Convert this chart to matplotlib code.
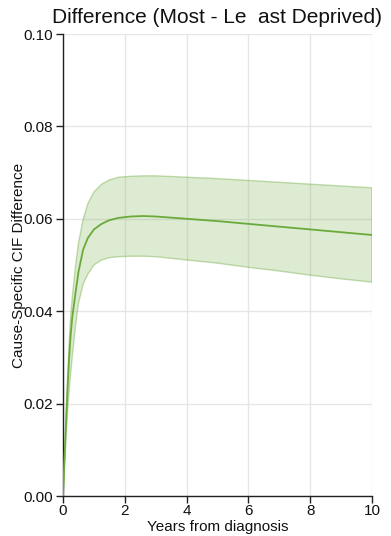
import matplotlib
matplotlib.use("Agg")
import matplotlib.pyplot as plt

plt.rcParams['font.family'] = ['Liberation Sans', 'DejaVu Sans']

# Years from diagnosis and the estimated CIF difference with its confidence band
years = [0, 0.05, 0.1, 0.15, 0.2, 0.25, 0.3, 0.4, 0.5, 0.65, 0.8, 1.0, 1.25,
         1.5, 1.8, 2.2, 2.6, 3.0, 4.0, 5.0, 6.0, 7.0, 8.0, 9.0, 10.0]
diff = [0, 0.0080, 0.0160, 0.0235, 0.0300, 0.0350, 0.0387, 0.0437, 0.0485,
        0.0533, 0.0558, 0.0577, 0.0589, 0.0597, 0.0602, 0.0605, 0.0606,
        0.0605, 0.0600, 0.0595, 0.0589, 0.0583, 0.0577, 0.0571, 0.0565]
upper = [0, 0.0090, 0.0178, 0.0262, 0.0335, 0.0390, 0.0430, 0.0495, 0.0547,
         0.0598, 0.0632, 0.0658, 0.0675, 0.0684, 0.0690, 0.0692, 0.0693,
         0.0693, 0.0690, 0.0687, 0.0683, 0.0679, 0.0675, 0.0671, 0.0667]
lower = [0, 0.0068, 0.0130, 0.0185, 0.0230, 0.0268, 0.0302, 0.0366, 0.0417,
         0.0458, 0.0480, 0.0500, 0.0511, 0.0516, 0.0518, 0.0519, 0.0519,
         0.0518, 0.0511, 0.0504, 0.0495, 0.0487, 0.0478, 0.0470, 0.0463]

x_ticks = [0, 2, 4, 6, 8, 10]
y_ticks = [0.00, 0.02, 0.04, 0.06, 0.08, 0.10]

green = '#6aaa3a'

fig = plt.figure(figsize=(3.91, 5.36), dpi=100)
ax = fig.add_axes([63 / 391, 40 / 536, 309 / 391, 462 / 536])

ax.fill_between(years, lower, upper, facecolor=green, alpha=0.23,
                edgecolor='none', zorder=2)
# outline of the band
band_x = list(years) + list(years[::-1]) + [years[0]]
band_y = list(upper) + list(lower[::-1]) + [upper[0]]
ax.plot(band_x, band_y, color=green, alpha=0.4, lw=1.0, zorder=3)
ax.plot(years, diff, color=green, lw=1.3, zorder=4)

ax.set_xlim(0, 10)
ax.set_ylim(0, 0.10)
ax.set_xticks(x_ticks)
ax.set_xticklabels([str(v) for v in x_ticks])
ax.set_yticks(y_ticks)
ax.set_yticklabels([f"{v:.2f}" for v in y_ticks])

ax.grid(True, color='#e6e6e6', lw=1.0, zorder=0)
ax.set_axisbelow(True)
for s in ['top', 'right']:
    ax.spines[s].set_visible(False)
for s in ['left', 'bottom']:
    ax.spines[s].set_color('#222222')
    ax.spines[s].set_linewidth(1.0)
ax.tick_params(axis='both', length=5, width=1.0, color='#222222',
               labelsize=11, labelcolor='#111111')
ax.tick_params(axis='x', pad=0.5)
ax.tick_params(axis='y', pad=2.5)

ax.set_xlabel('Years from diagnosis', fontsize=11, labelpad=2, color='#111111')
ax.set_ylabel('Cause-Specific CIF Difference', fontsize=11, labelpad=-2,
              color='#111111')
ax.set_title('Difference (Most - Le  ast Deprived)', fontsize=15, pad=8,
             color='#111111')

fig.savefig('out.png', dpi=100)
